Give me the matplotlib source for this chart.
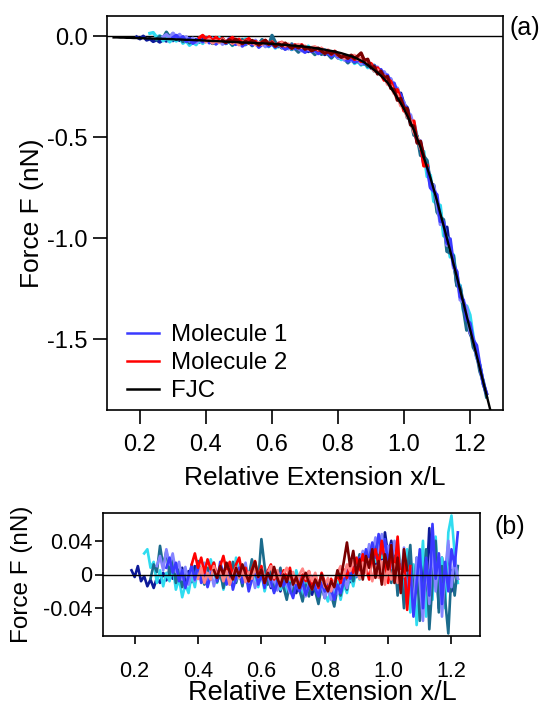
import numpy as np
import matplotlib
matplotlib.use("Agg")
import matplotlib.pyplot as plt
from matplotlib.lines import Line2D

plt.rcParams['font.family'] = ['Liberation Sans', 'DejaVu Sans']
plt.rcParams['axes.unicode_minus'] = False

# ---------------- data ----------------
# relative extension grid (x/L) shared by the model curve and all traces
extension = [0.12, 0.13, 0.14, 0.15, 0.16, 0.17, 0.18, 0.19, 0.20, 0.21, 0.22, 0.23, 0.24, 0.25,
             0.26, 0.27, 0.28, 0.29, 0.30, 0.31, 0.32, 0.33, 0.34, 0.35, 0.36, 0.37, 0.38, 0.39,
             0.40, 0.41, 0.42, 0.43, 0.44, 0.45, 0.46, 0.47, 0.48, 0.49, 0.50, 0.51, 0.52, 0.53,
             0.54, 0.55, 0.56, 0.57, 0.58, 0.59, 0.60, 0.61, 0.62, 0.63, 0.64, 0.65, 0.66, 0.67,
             0.68, 0.69, 0.70, 0.71, 0.72, 0.73, 0.74, 0.75, 0.76, 0.77, 0.78, 0.79, 0.80, 0.81,
             0.82, 0.83, 0.84, 0.85, 0.86, 0.87, 0.88, 0.89, 0.90, 0.91, 0.92, 0.93, 0.94, 0.95,
             0.96, 0.97, 0.98, 0.99, 1.00, 1.01, 1.02, 1.03, 1.04, 1.05, 1.06, 1.07, 1.08, 1.09,
             1.10, 1.11, 1.12, 1.13, 1.14, 1.15, 1.16, 1.17, 1.18, 1.19, 1.20, 1.21, 1.22, 1.23,
             1.24, 1.25, 1.26, 1.27]

# FJC model force on that grid (pN)
fjc_pN = [-6, -6, -7, -7, -8, -8, -9, -9, -10, -10, -11, -11, -12, -12,
          -13, -13, -14, -14, -15, -16, -16, -17, -18, -18, -19, -20, -20, -21,
          -22, -23, -24, -24, -25, -26, -27, -28, -28, -29, -30, -31, -32, -32,
          -33, -34, -35, -35, -36, -37, -38, -39, -40, -42, -43, -44, -46, -47,
          -49, -50, -52, -54, -56, -59, -61, -64, -67, -70, -73, -76, -80, -84,
          -89, -94, -99, -105, -113, -121, -130, -142, -155, -168, -181, -195, -212, -230,
          -254, -280, -305, -332, -360, -394, -429, -465, -507, -550, -600, -650, -700, -757,
          -815, -877, -938, -1000, -1063, -1127, -1190, -1255, -1320, -1385, -1450, -1515, -1580, -1645,
          -1710, -1775, -1840, -1905]

# residuals (data - FJC) in pN, starting at the given extension, one value per grid step
m1_navy_start = 0.19
m1_navy = [5, -3, 10, -8, -2, -14, -6, -16, -4, -10, 2, -7, 6, -5, 12, -3, 8, -12, 4, -9,
           10, -4, 7, -11, 3, -6, 9, -8, 2, -13, 5, -2, 10, -7, 1, -10, 4, -14, -1, 8,
           -9, 3, -12, -3, -16, 2, -8, -20, -5, -14, 1, -11, -22, -7, -17, -2, -13, -24, -9, -18,
           -4, -21, -12, -26, -10, -19, -6, -15, 2, -9, 8, -3, 14, 4, 20, 9, 28, 12, 35, 18,
           50, 22, 40, 10, 30, -5, 25, -15, 20, -25, 15, -35, 10, -20, 55, -10, 30, -40, 20, -15,
           35, -20, 10, -5, 15, -10, 5]

m1_cyan_start = 0.23
m1_cyan = [25, 30, 8, 15, -10, 5, -14, 2, -8, 10, -18, -5, -27, -12, -22, 0, -15, 8, -6, 14,
           -3, 18, 4, -10, 6, -18, -4, 12, -8, 20, 2, -12, 9, -5, 16, -2, -15, 4, -20, -6,
           10, -12, 3, -18, -8, -24, -4, -16, 5, -10, -25, -6, -20, -2, -14, -28, -9, -22, -32, -15,
           -27, -8, -30, -12, -22, 0, -14, 6, -6, 12, 25, 10, 30, 15, 42, 20, 35, 5, 28, -10,
           38, 8, -20, 30, -45, 12, -60, -15, 40, -50, 5, -30, 45, -25, 20, -40, 50, 70, 25, -10,
           15, -5]

m1_teal_start = 0.25
m1_teal = [-5, 12, 3, 34, 10, 28, 0, 18, -10, 6, -15, 2, -8, 12, -5, 16, 0, -12, 8, -4,
           14, -9, 3, -16, 6, -6, 15, -10, 4, -14, 10, -3, 18, 2, -8, 42, 10, -12, 5, -20,
           -6, 8, -15, -30, -10, -22, -4, -18, -32, -12, -26, -8, -20, -35, -14, -28, -10, -24, -38, -16,
           -25, -5, -18, 4, -8, 10, 24, 6, 18, 32, 14, 40, 20, 46, 15, 30, -10, 22, -25, 12,
           -40, 5, 35, -30, 20, -55, -20, 30, -65, -10, 40, -45, 10, -30, -70, 5, -25, 10, -15, 5,
           -10]

m1_lavender_start = 0.27
m1_lavender = [10, 22, 5, 30, 12, 25, 3, 15, -6, 9, -12, 4, -8, 10, -2, 13, -9, 5, -14, 0,
               8, -6, 11, -12, 2, -7, 9, -4, 14, -10, 1, -16, -3, 7, -11, 2, -14, -4, -19, -6,
               4, -12, -22, -8, -16, -2, -14, -26, -10, -18, -6, -22, -12, -28, -16, -30, -11, -23, -14, -4,
               -16, 2, 12, -2, 16, 28, 10, 36, 22, 44, 26, 48, 18, 34, 8, 40, 14, -10, 32, -30,
               10, -45, 20, -10, -55, 15, -35, 35, -20, 25, -50, 5, 40, -15, 20, -5, 10, -8]

m1_blue_start = 0.30
m1_blue = [8, 20, 2, 14, -8, 5, -16, -2, 10, -6, 12, -10, 4, -15, -1, 10, -8, 15, 0, -12,
           6, -18, -4, 8, -10, 3, -20, -6, 6, -12, 0, -16, 5, -8, -22, -10, 2, -14, -5, -18,
           -28, -12, -20, -8, -24, -14, -2, -16, -26, -10, -20, -6, -18, -30, -12, -22, -8, 6, -5, 14,
           2, 20, 8, 30, 16, 38, 20, 48, 25, 42, 12, 36, 0, 26, -18, 15, -35, 8, -50, -10,
           30, -40, 20, -25, 60, -5, 25, -35, 15, -20, 30, 10, 50, 15, -5, 8]

m2_red_start = 0.38
m2_red = [12, 25, 8, 20, 2, 18, 6, 14, -4, 10, 22, 4, 15, -2, 12, 20, 0, 8, -8, 6,
          16, -3, 10, -10, 4, 12, -6, 2, -12, 5, -4, 8, -10, -2, -15, 0, -8, 4, -12, -3,
          -16, 2, -9, -18, -5, -14, 0, -10, 6, -4, 14, 2, 20, 5, 24, 8, -6, 18, 30, 10,
          40, 15, -10, 25, 5, 45, -15, 20, -42, 10]

m2_salmon_start = 0.40
m2_salmon = [-5, 8, -10, 2, -6, 10, -2, 6, -8, 4, -12, 0, 9, -4, 5, -9, 3, -5, 8, -3,
             6, -8, 2, 10, -4, 5, -7, 1, 8, -6, 3, -10, 0, 7, -5, 4, -8, 2, -12, -1,
             -15, -4, -20, -8, 2, 10, -2, 12, 4, 16, 6, -5, 14, 2, 18, -8, 10, -4, 15, -12,
             8, -6, 12, -10, 4, -2]

m2_darkred_start = 0.45
m2_darkred = [5, -4, 10, 0, 14, 3, -6, 8, -2, 12, 1, -8, 4, 15, -3, 6, -10, 2, -6, 9,
              -4, -14, 0, -9, 4, -12, -3, -16, -5, 2, -10, -18, -6, -14, 0, -12, -20, -8, -15, 5,
              -5, 15, 38, 10, 28, 0, 18, -6, 22, 8, 30, -4, 16, -12, 24, 6, 35, -10, 20, -22,
              30, 5]

# upper end of the extension range shown in the residual panel
residual_xmax = 1.225

molecule1 = [(m1_navy_start, m1_navy, '#0d1a99'),
             (m1_cyan_start, m1_cyan, '#2fdcf0'),
             (m1_teal_start, m1_teal, '#1b6b8c'),
             (m1_lavender_start, m1_lavender, '#8585ff'),
             (m1_blue_start, m1_blue, '#3a3aff')]
molecule2 = [(m2_red_start, m2_red, '#ff0000'),
             (m2_salmon_start, m2_salmon, '#ff8585'),
             (m2_darkred_start, m2_darkred, '#7a0000')]

ext = np.array(extension)
fjc = np.array(fjc_pN) / 1000.0

def trace(start, resid):
    i0 = int(np.argmin(np.abs(ext - start)))
    r = np.array(resid) / 1000.0
    n = min(len(r), len(ext) - i0)
    x = ext[i0:i0 + n]
    r = r[:n]
    return x, r, fjc[i0:i0 + n] + r

# ---------------- figure ----------------
W, H = 547, 706
fig = plt.figure(figsize=(W / 100, H / 100), dpi=100)
ax1 = fig.add_axes([107 / W, 1 - 410 / H, (503 - 107) / W, (410 - 16) / H])
ax2 = fig.add_axes([103 / W, 1 - 636 / H, (480 - 103) / W, (636 - 513) / H])

# top panel
ax1.axhline(0, color='black', lw=1.0, zorder=1)
for start, resid, col in molecule1 + molecule2:
    x, r, f = trace(start, resid)
    ax1.plot(x, f, color=col, lw=2.4, zorder=2)
ax1.plot(ext, fjc, color='black', lw=1.7, zorder=4)

ax1.set_xlim(0.1, 1.3)
ax1.set_ylim(-1.85, 0.1)
ax1.set_xticks([0.2, 0.4, 0.6, 0.8, 1.0, 1.2])
ax1.set_xticklabels(['0.2', '0.4', '0.6', '0.8', '1.0', '1.2'])
ax1.set_yticks([0.0, -0.5, -1.0, -1.5])
ax1.set_yticklabels(['0.0', '-0.5', '-1.0', '-1.5'])
ax1.tick_params(axis='both', direction='out', length=10, width=1.2, labelsize=17)
ax1.tick_params(axis='x', pad=7)
ax1.tick_params(axis='y', pad=4)
ax1.set_xlabel('Relative Extension x/L', fontsize=19)
ax1.set_ylabel('Force F (nN)', fontsize=19)
ax1.xaxis.set_label_coords((315 - 107) / 396, (410 - 466) / 394)
ax1.yaxis.set_label_coords((44 - 107) / 396, 0.5)
for s in ax1.spines.values():
    s.set_linewidth(1.2)

handles = [Line2D([], [], color='#3a3aff', lw=1.8),
           Line2D([], [], color='#ff0000', lw=1.8),
           Line2D([], [], color='black', lw=1.8)]
ax1.legend(handles, ['Molecule 1', 'Molecule 2', 'FJC'], loc='lower left',
           bbox_to_anchor=(0.05, 0.02), frameon=False, fontsize=17.3,
           handlelength=1.35, handletextpad=0.5, labelspacing=0.25,
           borderpad=0, borderaxespad=0)

# bottom panel: residuals
for start, resid, col in molecule1 + molecule2:
    x, r, f = trace(start, resid)
    keep = x <= residual_xmax
    ax2.plot(x[keep], r[keep], color=col, lw=1.9, zorder=2)
ax2.axhline(0, color='black', lw=1.0, zorder=3)
ax2.set_xlim(0.1, 1.29)
ax2.set_ylim(-0.073, 0.073)
ax2.set_xticks([0.2, 0.4, 0.6, 0.8, 1.0, 1.2])
ax2.set_xticklabels(['0.2', '0.4', '0.6', '0.8', '1.0', '1.2'])
ax2.set_yticks([0.04, 0.0, -0.04])
ax2.set_yticklabels(['0.04', '0', '-0.04'])
ax2.tick_params(axis='both', direction='out', length=6, width=1.2, labelsize=15.5)
ax2.tick_params(axis='x', pad=12)
ax2.tick_params(axis='y', pad=1.5)
ax2.set_xlabel('Relative Extension x/L', fontsize=19.5)
ax2.set_ylabel('Force F (nN)', fontsize=17.5)
ax2.xaxis.label.set_verticalalignment('baseline')
ax2.xaxis.set_label_coords((322 - 103) / 377, (636 - 700) / 123)
ax2.yaxis.set_label_coords((33 - 103) / 377, 0.5)
for s in ax2.spines.values():
    s.set_linewidth(1.2)

fig.text(525 / W, 1 - 28 / H, '(a)', fontsize=18, ha='center', va='center')
fig.text(510 / W, 1 - 527 / H, '(b)', fontsize=18, ha='center', va='center')

fig.savefig('out.png', dpi=100)
